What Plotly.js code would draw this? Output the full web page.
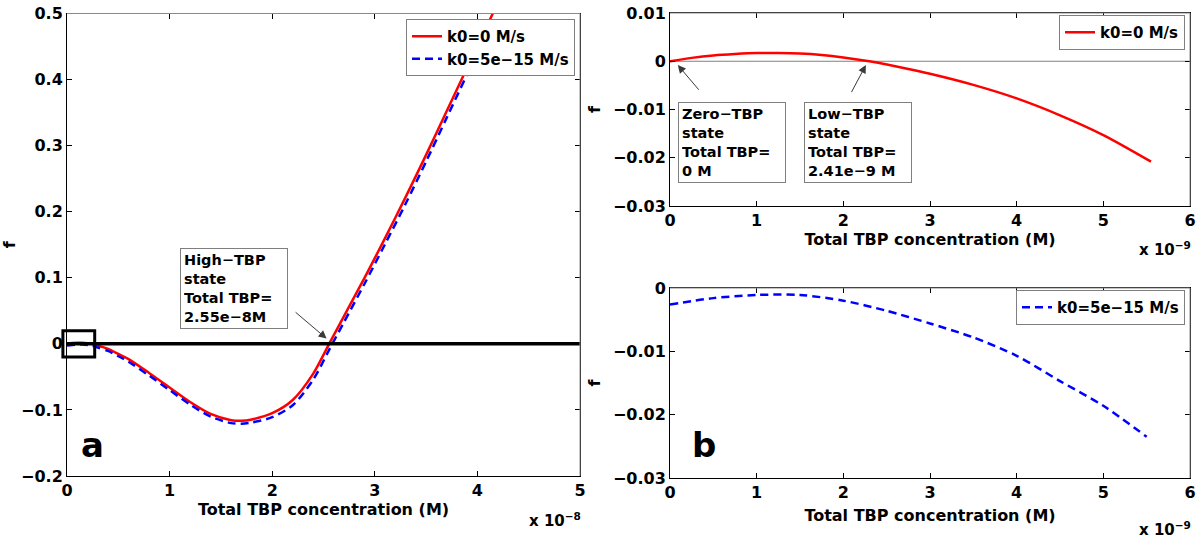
<!DOCTYPE html>
<html>
<head>
<meta charset="utf-8">
<script src="https://cdn.plot.ly/plotly-3.0.1.min.js"></script>
<style>html,body{margin:0;padding:0;background:#fff;}#chart{width:1200px;height:540px;}</style>
</head>
<body>
<div id="chart"></div>
<script>
// ---------- DATA ----------
// Panel a: x in units of 1e-8 M
const aX    = [0, 0.05, 0.1, 0.15, 0.2, 0.241, 0.3, 0.4, 0.5, 0.6, 0.8, 1.0, 1.2, 1.4, 1.6, 1.7, 1.8, 2.0, 2.2, 2.4, 2.555, 2.7, 2.9, 3.1, 3.3, 3.5, 3.7, 3.9, 4.15];
const aRed  = [0, 0.0012, 0.0017, 0.0015, 0.0008, 0, -0.0026, -0.0077, -0.0153, -0.023, -0.044, -0.066, -0.088, -0.106, -0.1155, -0.1165, -0.1145, -0.105, -0.085, -0.045, 0, 0.042, 0.100, 0.160, 0.222, 0.286, 0.352, 0.418, 0.50];
const aBlue = [-0.0026, -0.0016, -0.0011, -0.0011, -0.0016, -0.0026, -0.0056, -0.0107, -0.0186, -0.027, -0.048, -0.070, -0.092, -0.110, -0.1200, -0.1208, -0.119, -0.111, -0.093, -0.054, -0.009, 0.033, 0.091, 0.151, 0.212, 0.276, 0.342, 0.408, 0.49];
// Panel b (top): x in units of 1e-9 M
const bTopX   = [0, 0.25, 0.5, 0.75, 1.0, 1.25, 1.5, 1.75, 2.0, 2.3, 2.75, 3.0, 3.5, 4.0, 4.5, 5.0, 5.55];
const bTopRed = [0, 0.0007, 0.0012, 0.0015, 0.0017, 0.0017, 0.0016, 0.0013, 0.0008, 0, -0.0016, -0.0026, -0.0049, -0.0077, -0.0112, -0.0153, -0.0208];
// Panel b (bottom): x in units of 1e-9 M
const bBotX    = [0, 0.5, 1, 1.5, 2, 2.5, 3, 3.5, 4, 4.5, 5, 5.5];
const bBotBlue = [-0.0026, -0.0016, -0.0011, -0.0011, -0.002, -0.0036, -0.0056, -0.0078, -0.0107, -0.0147, -0.0186, -0.0235];

const seriesNames = ['k0=0 M/s', 'k0=5e\u221215 M/s'];
const xTitle = 'Total TBP concentration (M)';
const yTitle = 'f';
const exponentA = 'x 10<sup>\u22128</sup>';
const exponentB = 'x 10<sup>\u22129</sup>';
const panelLabels = ['a', 'b'];
const noteHigh = 'High\u2212TBP<br>state<br>Total TBP=<br>2.55e\u22128M';
const noteZero = 'Zero\u2212TBP<br>state<br>Total TBP=<br>0 M';
const noteLow  = 'Low\u2212TBP<br>state<br>Total TBP=<br>2.41e\u22129 M';
// marked states (data coords)
const highState = [2.53, 0.008];
const zeroState = [0.09, -0.0008];
const lowState  = [2.26, -0.0008];
// small box around origin in panel a (data coords)
const boxX = [-0.04, 0.27];
const boxY = [-0.02, 0.02];

// ---------- STYLE ----------
const FAM = 'DejaVu Sans, sans-serif';
const tickFont = {family: FAM, size: 16, color: '#000', weight: 'bold'};
const titleFont = {family: FAM, size: 16, color: '#000', weight: 'bold'};
const legFont = {family: FAM, size: 15, color: '#000', weight: 'bold'};
const noteFont = {family: FAM, size: 14.5, color: '#000', weight: 'bold'};

const domA = [67/1200, 580/1200];
const domB = [670/1200, 1190/1200];
const domAy = [1-476/540, 1-13.5/540];
const domBy1 = [1-206/540, 1-13/540];
const domBy2 = [1-478/540, 1-288/540];
const rngA = [0, 5], rngAy = [-0.2, 0.5];

function ax(extra) {
  return Object.assign({
    showline: true, mirror: 'ticks', linecolor: '#000', linewidth: 1,
    ticks: 'inside', ticklen: 5, tickcolor: '#000', tickwidth: 1,
    showgrid: false, zeroline: false, tickfont: tickFont, fixedrange: true
  }, extra);
}
function px(v, dom, rng) { return dom[0] + (v - rng[0]) / (rng[1] - rng[0]) * (dom[1] - dom[0]); }

const redLine = {color: '#ff0000', width: 2.5, shape: 'spline', smoothing: 0.8};
const blueLine = {color: '#0000ff', width: 2.5, dash: '8px,5px', shape: 'spline', smoothing: 0.8};

const traces = [
  {x: aX, y: aRed, type: 'scatter', mode: 'lines', name: seriesNames[0], line: redLine, xaxis: 'x', yaxis: 'y', legend: 'legend'},
  {x: aX, y: aBlue, type: 'scatter', mode: 'lines', name: seriesNames[1], line: blueLine, xaxis: 'x', yaxis: 'y', legend: 'legend'},
  {x: bTopX, y: bTopRed, type: 'scatter', mode: 'lines', name: seriesNames[0], line: redLine, xaxis: 'x2', yaxis: 'y2', legend: 'legend2'},
  {x: bBotX, y: bBotBlue, type: 'scatter', mode: 'lines', name: seriesNames[1], line: blueLine, xaxis: 'x3', yaxis: 'y3', legend: 'legend3'}
];

const legBase = {bgcolor: '#fff', bordercolor: '#7f7f7f', borderwidth: 1, font: legFont, xanchor: 'right', yanchor: 'top', itemclick: false, itemdoubleclick: false};

const grayEdge = {color: '#8a8a8a', width: 1};
const shapes = [
  // thick zero line, panel a
  {type: 'line', xref: 'x', yref: 'y', x0: 0, x1: 5, y0: 0, y1: 0, line: {color: '#000', width: 3.5}, layer: 'above'},
  // thin zero line, panel b top
  {type: 'line', xref: 'x2', yref: 'y2', x0: 0, x1: 6, y0: 0, y1: 0, line: {color: '#808080', width: 1}, layer: 'below'},
  // box around origin (panel a), drawn in paper coords so it is not clipped
  {type: 'rect', xref: 'paper', yref: 'paper',
   x0: px(boxX[0], domA, rngA), x1: px(boxX[1], domA, rngA),
   y0: px(boxY[0], domAy, rngAy), y1: px(boxY[1], domAy, rngAy),
   line: {color: '#000', width: 3}, fillcolor: 'rgba(0,0,0,0)'},
  // gray top/right borders
  {type: 'line', xref: 'paper', yref: 'paper', x0: domA[0], x1: domA[1], y0: domAy[1], y1: domAy[1], line: grayEdge},
  {type: 'line', xref: 'paper', yref: 'paper', x0: domA[1], x1: domA[1], y0: domAy[0], y1: domAy[1], line: grayEdge},
  {type: 'line', xref: 'paper', yref: 'paper', x0: domB[0], x1: domB[1], y0: domBy1[1], y1: domBy1[1], line: grayEdge},
  {type: 'line', xref: 'paper', yref: 'paper', x0: domB[1], x1: domB[1], y0: domBy1[0], y1: domBy1[1], line: grayEdge},
  {type: 'line', xref: 'paper', yref: 'paper', x0: domB[0], x1: domB[1], y0: domBy2[1], y1: domBy2[1], line: grayEdge},
  {type: 'line', xref: 'paper', yref: 'paper', x0: domB[1], x1: domB[1], y0: domBy2[0], y1: domBy2[1], line: grayEdge}
];

const boxNote = {xref: 'paper', yref: 'paper', showarrow: false, align: 'left', xanchor: 'left', yanchor: 'top',
  bgcolor: '#fff', bordercolor: '#7f7f7f', borderwidth: 1, borderpad: 3, font: noteFont, width: 100};
const arrowBase = {text: ' ', showarrow: true, arrowhead: 2, arrowsize: 1.6, arrowwidth: 1, arrowcolor: '#3a3a3a', standoff: 0, font: {size: 2}};

const annotations = [
  Object.assign({}, boxNote, {text: noteHigh, x: 180/1200, y: 1-248/540}),
  Object.assign({}, boxNote, {text: noteZero, x: 678/1200, y: 1-102/540}),
  Object.assign({}, boxNote, {text: noteLow,  x: 804/1200, y: 1-102/540}),
  Object.assign({}, arrowBase, {xref: 'x', yref: 'y', x: highState[0], y: highState[1], ax: -33, ay: -28}),
  Object.assign({}, arrowBase, {xref: 'x2', yref: 'y2', x: zeroState[0], y: zeroState[1], ax: 23, ay: 27}),
  Object.assign({}, arrowBase, {xref: 'x2', yref: 'y2', x: lowState[0], y: lowState[1], ax: -16, ay: 30}),
  {xref: 'paper', yref: 'paper', x: 583/1200, y: 1-520/540, xanchor: 'right', yanchor: 'middle', showarrow: false, text: exponentA, font: {family: FAM, size: 15, color: '#000', weight: 'bold'}},
  {xref: 'paper', yref: 'paper', x: 1193/1200, y: 1-249/540, xanchor: 'right', yanchor: 'middle', showarrow: false, text: exponentB, font: {family: FAM, size: 15, color: '#000', weight: 'bold'}},
  {xref: 'paper', yref: 'paper', x: 1193/1200, y: 1-529/540, xanchor: 'right', yanchor: 'middle', showarrow: false, text: exponentB, font: {family: FAM, size: 15, color: '#000', weight: 'bold'}},
  {xref: 'paper', yref: 'paper', x: 92/1200, y: 1-445/540, xanchor: 'center', yanchor: 'middle', showarrow: false, text: panelLabels[0], font: {family: FAM, size: 34, color: '#000', weight: 'bold'}},
  {xref: 'paper', yref: 'paper', x: 704/1200, y: 1-445/540, xanchor: 'center', yanchor: 'middle', showarrow: false, text: panelLabels[1], font: {family: FAM, size: 34, color: '#000', weight: 'bold'}}
];

const layout = {
  width: 1200, height: 540,
  margin: {l: 0, r: 0, t: 0, b: 0},
  paper_bgcolor: '#fff', plot_bgcolor: '#fff',
  showlegend: true,
  xaxis: ax({domain: domA, range: rngA, dtick: 1, tick0: 0, anchor: 'y', title: {text: xTitle, font: titleFont, standoff: 2}}),
  yaxis: ax({domain: domAy, range: rngAy, dtick: 0.1, tick0: 0, anchor: 'x', title: {text: yTitle, font: titleFont, standoff: 8}}),
  xaxis2: ax({domain: domB, range: [0, 6], dtick: 1, tick0: 0, anchor: 'y2', title: {text: xTitle, font: titleFont, standoff: 2}}),
  yaxis2: ax({domain: domBy1, range: [-0.03, 0.01], dtick: 0.01, tick0: 0, anchor: 'x2', title: {text: yTitle, font: titleFont, standoff: 8}}),
  xaxis3: ax({domain: domB, range: [0, 6], dtick: 1, tick0: 0, anchor: 'y3', title: {text: xTitle, font: titleFont, standoff: 8}}),
  yaxis3: ax({domain: domBy2, range: [-0.03, 0], dtick: 0.01, tick0: 0, anchor: 'x3', title: {text: yTitle, font: titleFont, standoff: 8}}),
  legend: Object.assign({}, legBase, {x: 575/1200, y: 1-19/540}),
  legend2: Object.assign({}, legBase, {x: 1185/1200, y: 1-15/540}),
  legend3: Object.assign({}, legBase, {x: 1185/1200, y: 1-290/540}),
  shapes: shapes,
  annotations: annotations
};

Plotly.newPlot('chart', traces, layout, {staticPlot: true, displayModeBar: false});
</script>
</body>
</html>
